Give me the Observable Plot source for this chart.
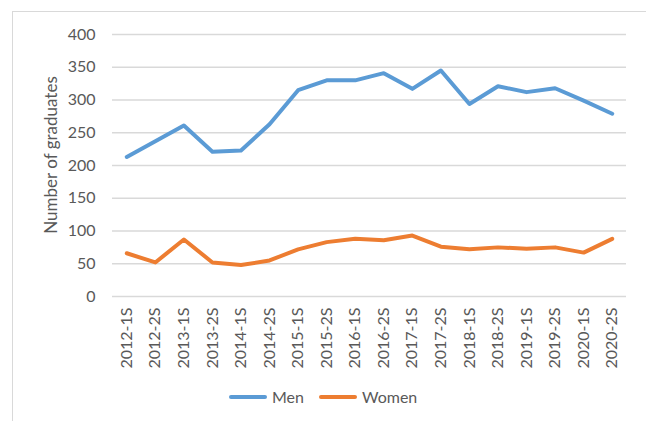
<!DOCTYPE html>
<html>
<head>
<meta charset="utf-8">
<script src="https://cdn.jsdelivr.net/npm/d3@7"></script>
<script src="https://cdn.jsdelivr.net/npm/@observablehq/plot@0.6"></script>
<style>
  html, body { margin: 0; padding: 0; background: #fff; }
  #wrap { position: relative; width: 646px; height: 421px; overflow: hidden; font-family: Lato, "Open Sans", sans-serif; }
  #frame { position: absolute; left: 12px; top: 11px; width: 700px; height: 500px; border-left: 1px solid #d9d9d9; border-top: 1px solid #d9d9d9; box-sizing: border-box; }
  #ytitle { position: absolute; left: 50px; top: 155px; transform: translate(-50%, -50%) rotate(-90deg); white-space: nowrap; font-size: 17px; color: #595959; }
  #legend { position: absolute; top: 387px; left: 0; width: 646px; font-size: 16px; color: #595959; }
  .item { position: absolute; display: flex; align-items: center; }
  .swatch { width: 38px; height: 4px; border-radius: 2px; margin-right: 5px; }
  svg { position: absolute; left: 0; top: 0; }
</style>
</head>
<body>
<div id="wrap">
  <div id="frame"></div>
  <div id="chart"></div>
  <div id="ytitle">Number of graduates</div>
  <div id="legend"></div>
</div>
<script>
const periods = ["2012-1S","2012-2S","2013-1S","2013-2S","2014-1S","2014-2S","2015-1S","2015-2S","2016-1S","2016-2S","2017-1S","2017-2S","2018-1S","2018-2S","2019-1S","2019-2S","2020-1S","2020-2S"];
const men   = [213, 237, 261, 221, 223, 263, 315, 330, 330, 341, 317, 345, 294, 321, 312, 318, 299, 279];
const women = [66, 52, 87, 52, 48, 55, 72, 83, 88, 86, 93, 76, 72, 75, 73, 75, 67, 88];
const yTicks = [0, 50, 100, 150, 200, 250, 300, 350, 400];
const seriesNames = ["Men", "Women"];
const seriesColors = ["#5b9bd5", "#ed7d31"];

const rows = [];
periods.forEach((p, i) => {
  rows.push({period: p, value: men[i], series: "Men"});
  rows.push({period: p, value: women[i], series: "Women"});
});

const chart = Plot.plot({
  width: 646,
  height: 421,
  marginLeft: 112,
  marginRight: 20,
  marginTop: 34,
  marginBottom: 125,
  style: { fontFamily: "Lato, 'Open Sans', sans-serif", fontSize: "16px", color: "#595959", background: "transparent" },
  x: { type: "point", domain: periods, padding: 0.5, round: false, label: null },
  y: { domain: [0, 400], ticks: yTicks, label: null },
  color: { domain: seriesNames, range: seriesColors },
  marks: [
    Plot.gridY(yTicks, { stroke: "#d9d9d9", strokeOpacity: 1, strokeWidth: 1.3 }),
    Plot.axisY(yTicks, { tickSize: 0, tickPadding: 17, fontSize: 16, fill: "#595959", label: null }),
    Plot.axisX({ tickSize: 0, tickPadding: 11, tickRotate: -90, fontSize: 16, fill: "#595959", label: null }),
    Plot.line(rows, { x: "period", y: "value", z: "series", stroke: "series", strokeWidth: 4, strokeLinejoin: "round", strokeLinecap: "round" })
  ]
});
document.getElementById("chart").appendChild(chart);

const legend = document.getElementById("legend");
const lefts = [229, 319];
seriesNames.forEach((name, i) => {
  const it = document.createElement("div");
  it.className = "item";
  it.style.left = lefts[i] + "px";
  const sw = document.createElement("div");
  sw.className = "swatch";
  sw.style.background = seriesColors[i];
  const tx = document.createElement("span");
  tx.textContent = name;
  it.appendChild(sw);
  it.appendChild(tx);
  legend.appendChild(it);
});
</script>
</body>
</html>
